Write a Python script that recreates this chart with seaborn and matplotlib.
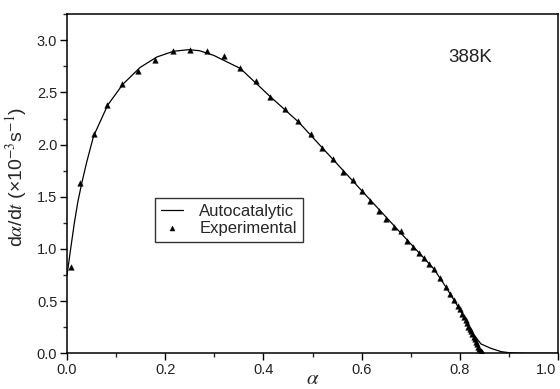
import matplotlib
matplotlib.use("Agg")
import matplotlib.pyplot as plt
import matplotlib.transforms as mtransforms
from matplotlib.ticker import MultipleLocator
import seaborn as sns
import pandas as pd

# Experimental points (alpha, d alpha/dt in 1e-3 s^-1)
exp_alpha = [0.008, 0.027, 0.055, 0.082, 0.112, 0.145, 0.180, 0.216, 0.251, 0.286,
             0.320, 0.353, 0.384, 0.414, 0.443, 0.470, 0.496, 0.520, 0.541, 0.562,
             0.582, 0.600, 0.618, 0.635, 0.650, 0.666, 0.680, 0.692, 0.705, 0.716,
             0.727, 0.737, 0.748, 0.760, 0.771, 0.780, 0.788, 0.797, 0.800, 0.805,
             0.809, 0.812, 0.814, 0.817, 0.820, 0.822, 0.825, 0.828, 0.830, 0.833,
             0.835, 0.837, 0.840, 0.843, 0.845]
exp_rate = [0.83, 1.63, 2.10, 2.38, 2.58, 2.71, 2.81, 2.90, 2.91, 2.90,
            2.85, 2.73, 2.61, 2.46, 2.34, 2.23, 2.10, 1.97, 1.86, 1.74,
            1.66, 1.56, 1.46, 1.365, 1.285, 1.21, 1.17, 1.08, 1.02, 0.96,
            0.91, 0.86, 0.81, 0.72, 0.64, 0.57, 0.51, 0.45, 0.42, 0.38,
            0.35, 0.32, 0.29, 0.255, 0.235, 0.21, 0.185, 0.16, 0.135, 0.11,
            0.085, 0.063, 0.04, 0.02, 0.01]

# Autocatalytic model curve
fit_alpha = [0.0, 0.003, 0.008, 0.015, 0.022, 0.030, 0.040, 0.054, 0.083, 0.114,
             0.149, 0.183, 0.217, 0.248, 0.270, 0.299, 0.353, 0.414, 0.472, 0.600,
             0.747, 0.771, 0.802, 0.822, 0.843, 0.863, 0.884, 0.900, 0.914, 0.930,
             0.950, 1.0]
fit_rate = [0.75, 0.85, 1.02, 1.25, 1.45, 1.63, 1.83, 2.08, 2.38, 2.58,
            2.74, 2.84, 2.895, 2.91, 2.90, 2.855, 2.73, 2.46, 2.215, 1.56,
            0.81, 0.64, 0.405, 0.22, 0.09, 0.048, 0.016, 0.006, 0.003, 0.001,
            0.0, 0.0]

xticks = [0.0, 0.2, 0.4, 0.6, 0.8, 1.0]
yticks = [0.0, 0.5, 1.0, 1.5, 2.0, 2.5, 3.0]

sns.set_style("ticks")
plt.rcParams['font.family'] = ['Liberation Sans', 'DejaVu Sans']
plt.rcParams['mathtext.fontset'] = 'stix'

fig = plt.figure(figsize=(5.6, 3.89), dpi=100)
ax = fig.add_axes([67/560, 1 - 353.3/389, (558-67)/560, (353.3-14)/389])

exp_df = pd.DataFrame({"alpha": exp_alpha, "rate": exp_rate})
fit_df = pd.DataFrame({"alpha": fit_alpha, "rate": fit_rate})

sns.lineplot(data=fit_df, x="alpha", y="rate", ax=ax, color="black", lw=0.9,
             label="Autocatalytic", sort=False, estimator=None)
sns.scatterplot(data=exp_df, x="alpha", y="rate", ax=ax, marker="^", color="black",
                s=16, edgecolor="black", linewidth=0.3, label="Experimental", zorder=3)

ax.set_xlim(0, 1.0)
ax.set_ylim(0, 3.252)
ax.set_xticks(xticks)
ax.set_yticks(yticks)
ax.set_xticklabels([f"{v:.1f}" for v in xticks])
ax.set_yticklabels([f"{v:.1f}" for v in yticks])
ax.xaxis.set_minor_locator(MultipleLocator(0.1))
ax.yaxis.set_minor_locator(MultipleLocator(0.25))
ax.tick_params(which='major', direction='out', length=5, width=1, labelsize=10.5, pad=2,
               top=False, right=False, color='black', labelcolor='#222222')
ax.tick_params(which='minor', direction='out', length=3, width=1, top=False, right=False)
for s in ax.spines.values():
    s.set_visible(True)
    s.set_linewidth(1.1)
    s.set_color('black')

# keep last x tick label inside canvas
lbls = ax.get_xticklabels()
off = mtransforms.ScaledTranslation(-12/100, 0, fig.dpi_scale_trans)
lbls[-1].set_transform(lbls[-1].get_transform() + off)

ax.set_xlabel(r'$\alpha$', fontsize=15, labelpad=-6)
ax.set_ylabel(r'd$\alpha$/d$t$ (×10$^{-3}$s$^{-1}$)', fontsize=14, labelpad=2)
ax.yaxis.set_label_coords(-0.078, 0.52)

ax.text(0.776, 0.872, "388K", transform=ax.transAxes, fontsize=13.5, color='#222222',
        ha='left', va='center')

leg = ax.legend(loc='upper left', bbox_to_anchor=((155-67)/491, (353.3-198.3)/339.3),
                borderaxespad=0, frameon=True, fancybox=False, fontsize=12,
                handlelength=1.3, handletextpad=1.0, borderpad=0.35, labelspacing=0.1,
                markerscale=0.9)
leg.get_frame().set_edgecolor('black')
leg.get_frame().set_linewidth(1.0)

fig.savefig("out.png", dpi=100)
